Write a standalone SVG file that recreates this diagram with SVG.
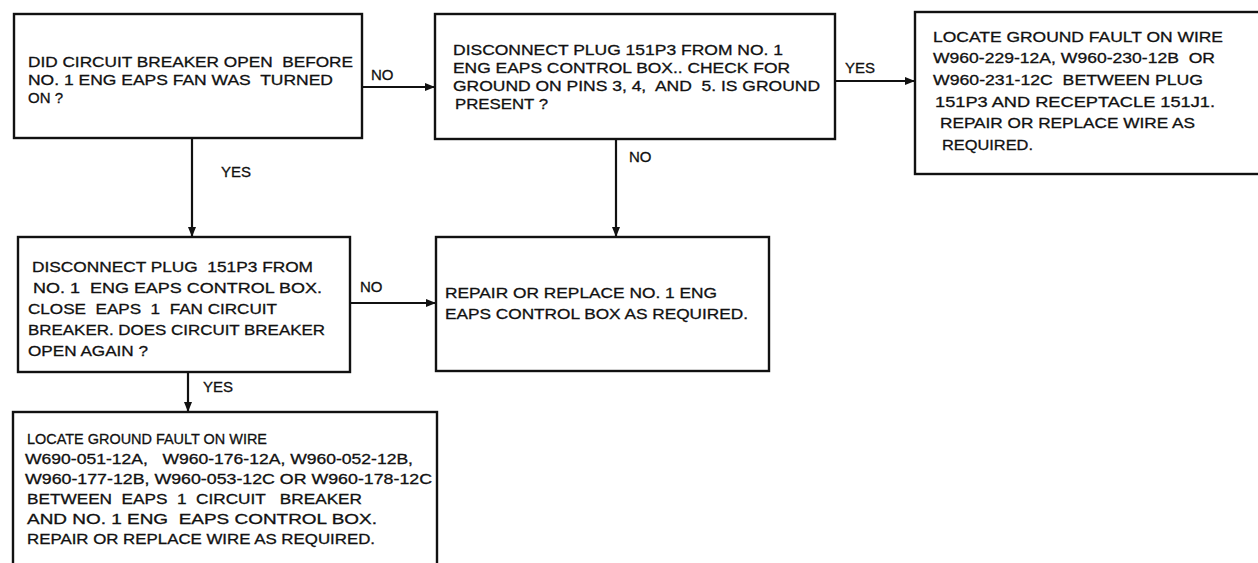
<svg xmlns="http://www.w3.org/2000/svg" width="1258" height="563" viewBox="0 0 1258 563">
<style>
.box{fill:#fff;stroke:#111;stroke-width:2.4}
.t{font-family:"Liberation Sans",Arial,sans-serif;font-size:15px;fill:#111;stroke:#111;stroke-width:0.3;white-space:pre}
.s{font-size:14.5px}
.lbl{font-family:"Liberation Sans",Arial,sans-serif;font-size:15px;fill:#111;stroke:#111;stroke-width:0.3}
.c{stroke:#111;stroke-width:2.2;fill:none}
</style>
<defs>
<marker id="ah" viewBox="0 0 10 8" refX="10" refY="4" markerWidth="11" markerHeight="8" markerUnits="userSpaceOnUse" orient="auto">
<path d="M0,0 L10,4 L0,8 Z" fill="#111"/>
</marker>
</defs>
<rect width="1258" height="563" fill="#fff"/>
<g id="connectors">
<line class="c" x1="362" y1="87" x2="435" y2="87" marker-end="url(#ah)"/>
<text class="lbl" x="371" y="80">NO</text>
<line class="c" x1="835" y1="81" x2="915" y2="81" marker-end="url(#ah)"/>
<text class="lbl" x="845" y="73">YES</text>
<line class="c" x1="192" y1="138" x2="192" y2="237" marker-end="url(#ah)"/>
<text class="lbl" x="221" y="177">YES</text>
<line class="c" x1="616" y1="139" x2="616" y2="237" marker-end="url(#ah)"/>
<text class="lbl" x="629" y="162">NO</text>
<line class="c" x1="350" y1="303" x2="436" y2="303" marker-end="url(#ah)"/>
<text class="lbl" x="360" y="292">NO</text>
<line class="c" x1="188" y1="372" x2="188" y2="412" marker-end="url(#ah)"/>
<text class="lbl" x="203" y="392">YES</text>
</g>
<g id="n1">
<rect class="box" x="14" y="14" width="348" height="124"/>
<text class="t" x="28" y="67" textLength="325" lengthAdjust="spacingAndGlyphs">DID CIRCUIT BREAKER OPEN  BEFORE</text>
<text class="t" x="28" y="85" textLength="305" lengthAdjust="spacingAndGlyphs">NO. 1 ENG EAPS FAN WAS  TURNED</text>
<text class="t" x="28" y="103">ON ?</text>
</g>
<g id="n2">
<rect class="box" x="435" y="14" width="400" height="125"/>
<text class="t" x="453" y="55" textLength="330" lengthAdjust="spacingAndGlyphs">DISCONNECT PLUG 151P3 FROM NO. 1</text>
<text class="t" x="453" y="73" textLength="337" lengthAdjust="spacingAndGlyphs">ENG EAPS CONTROL BOX.. CHECK FOR</text>
<text class="t" x="453" y="91" textLength="367" lengthAdjust="spacingAndGlyphs">GROUND ON PINS 3, 4,  AND  5. IS GROUND</text>
<text class="t" x="455" y="109" textLength="93" lengthAdjust="spacingAndGlyphs">PRESENT ?</text>
</g>
<g id="n3">
<rect class="box" x="915" y="12" width="350" height="162"/>
<text class="t" x="933" y="42" textLength="290" lengthAdjust="spacingAndGlyphs">LOCATE GROUND FAULT ON WIRE</text>
<text class="t" x="933" y="63" textLength="282" lengthAdjust="spacingAndGlyphs">W960-229-12A, W960-230-12B  OR</text>
<text class="t" x="933" y="85" textLength="270" lengthAdjust="spacingAndGlyphs">W960-231-12C  BETWEEN PLUG</text>
<text class="t" x="935" y="107" textLength="280" lengthAdjust="spacingAndGlyphs">151P3 AND RECEPTACLE 151J1.</text>
<text class="t" x="940" y="128" textLength="255" lengthAdjust="spacingAndGlyphs">REPAIR OR REPLACE WIRE AS</text>
<text class="t" x="942" y="150" textLength="91" lengthAdjust="spacingAndGlyphs">REQUIRED.</text>
</g>
<g id="n4">
<rect class="box" x="18" y="237" width="332" height="135"/>
<text class="t" x="32" y="272" textLength="281" lengthAdjust="spacingAndGlyphs">DISCONNECT PLUG  151P3 FROM</text>
<text class="t" x="33" y="293" textLength="289" lengthAdjust="spacingAndGlyphs">NO. 1  ENG EAPS CONTROL BOX.</text>
<text class="t" x="28" y="314" textLength="249" lengthAdjust="spacingAndGlyphs">CLOSE  EAPS  1  FAN CIRCUIT</text>
<text class="t" x="28" y="335" textLength="297" lengthAdjust="spacingAndGlyphs">BREAKER. DOES CIRCUIT BREAKER</text>
<text class="t" x="28" y="356" textLength="120" lengthAdjust="spacingAndGlyphs">OPEN AGAIN ?</text>
</g>
<g id="n5">
<rect class="box" x="436" y="237" width="333" height="134"/>
<text class="t" x="445" y="298" textLength="272" lengthAdjust="spacingAndGlyphs">REPAIR OR REPLACE NO. 1 ENG</text>
<text class="t" x="445" y="319" textLength="303" lengthAdjust="spacingAndGlyphs">EAPS CONTROL BOX AS REQUIRED.</text>
</g>
<g id="n6">
<rect class="box" x="13" y="412" width="424" height="170"/>
<text class="t s" x="27" y="444" textLength="240" lengthAdjust="spacingAndGlyphs">LOCATE GROUND FAULT ON WIRE</text>
<text class="t s" x="25" y="464" textLength="388" lengthAdjust="spacingAndGlyphs">W690-051-12A,   W960-176-12A, W960-052-12B,</text>
<text class="t s" x="25" y="484" textLength="407" lengthAdjust="spacingAndGlyphs">W960-177-12B, W960-053-12C OR W960-178-12C</text>
<text class="t s" x="27" y="504" textLength="335" lengthAdjust="spacingAndGlyphs">BETWEEN  EAPS  1  CIRCUIT   BREAKER</text>
<text class="t s" x="27" y="524" textLength="350" lengthAdjust="spacingAndGlyphs">AND NO. 1 ENG  EAPS CONTROL BOX.</text>
<text class="t s" x="27" y="544" textLength="348" lengthAdjust="spacingAndGlyphs">REPAIR OR REPLACE WIRE AS REQUIRED.</text>
</g>
</svg>
